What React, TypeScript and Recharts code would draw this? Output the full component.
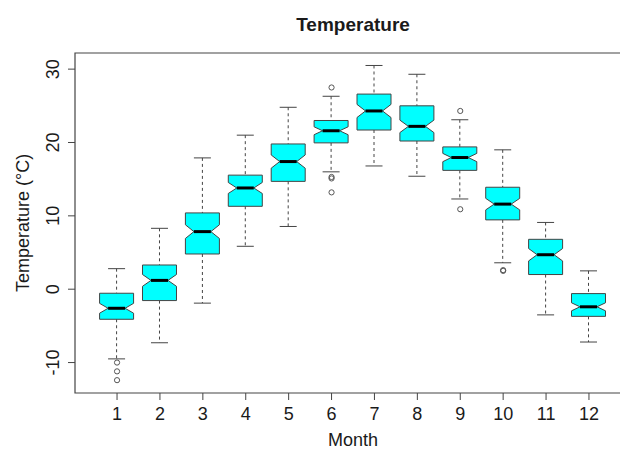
import React from 'react';
import {
    ComposedChart,
    Bar,
    Scatter,
    XAxis,
    YAxis,
    ReferenceArea,
    Customized
} from 'recharts';

// monthly temperature box plot stats
const months = [1, 2, 3, 4, 5, 6, 7, 8, 9, 10, 11, 12];
const whiskerLow = [-9.5, -7.3, -1.9, 5.85, 8.55, 16.0, 16.8, 15.4, 12.3, 3.6, -3.5, -7.2];
const lowerHinge = [-4.1, -1.55, 4.8, 11.3, 14.7, 19.95, 21.7, 20.2, 16.2, 9.45, 2.0, -3.7];
const medians = [-2.6, 1.2, 7.85, 13.8, 17.4, 21.6, 24.3, 22.2, 17.95, 11.6, 4.7, -2.4];
const upperHinge = [-0.55, 3.3, 10.4, 15.55, 19.8, 23.0, 26.6, 25.0, 19.4, 13.9, 6.8, -0.6];
const whiskerHigh = [2.8, 8.3, 17.9, 21.0, 24.8, 26.3, 30.5, 29.3, 23.1, 19.0, 9.1, 2.5];
const sampleSize = [70, 90, 90, 80, 80, 80, 75, 80, 80, 80, 80, 80];

const outlierMonths = [1, 1, 1, 6, 6, 6, 6, 9, 9, 10, 10];
const outlierValues = [-10.0, -11.2, -12.4, 27.5, 15.3, 15.1, 13.2, 24.3, 10.9, 2.6, 2.5];

const yTicks = [-10, 0, 10, 20, 30];

const FONT = '"Liberation Sans", Arial, sans-serif';
const INK = '#1a1a1a';
const LINE = '#444';

const boxData = months.map((m, i) => ({
    month: m,
    lo: whiskerLow[i],
    q1: lowerHinge[i],
    med: medians[i],
    q3: upperHinge[i],
    hi: whiskerHigh[i],
    n: sampleSize[i]
}));

const outliers = outlierMonths.map((m, i) => ({ month: m, value: outlierValues[i] }));

const NotchedBox = (props: any) => {
    const { x, y, width, height, payload } = props;
    if (!payload) return null;
    const top = Math.min(y, y + height);
    const bottom = Math.max(y, y + height);
    const { lo, q1, med, q3, hi, n } = payload;
    const ppu = (bottom - top) / (hi - lo);
    const py = (v: number) => top + (hi - v) * ppu;
    const cx = x + width / 2;
    const w = width / 2;
    const notch = (1.58 * (q3 - q1)) / Math.sqrt(n);
    const pts = [
        [cx - w, py(q3)],
        [cx + w, py(q3)],
        [cx + w, py(med + notch)],
        [cx + w / 2, py(med)],
        [cx + w, py(med - notch)],
        [cx + w, py(q1)],
        [cx - w, py(q1)],
        [cx - w, py(med - notch)],
        [cx - w / 2, py(med)],
        [cx - w, py(med + notch)]
    ].map((p) => p.join(',')).join(' ');
    return (
        <g>
            <line x1={cx} x2={cx} y1={py(hi)} y2={py(q3)} stroke={LINE} strokeDasharray="3 3" />
            <line x1={cx} x2={cx} y1={py(q1)} y2={py(lo)} stroke={LINE} strokeDasharray="3 3" />
            <line x1={cx - w / 2} x2={cx + w / 2} y1={py(hi)} y2={py(hi)} stroke={LINE} />
            <line x1={cx - w / 2} x2={cx + w / 2} y1={py(lo)} y2={py(lo)} stroke={LINE} />
            <polygon points={pts} fill="#00FFFF" stroke={LINE} strokeWidth={1} />
            <line x1={cx - w / 2} x2={cx + w / 2} y1={py(med)} y2={py(med)} stroke="#000" strokeWidth={3} />
        </g>
    );
};

const OutlierDot = (props: any) => {
    const { cx, cy } = props;
    return <circle cx={cx} cy={cy} r={2.6} fill="none" stroke="#555" strokeWidth={1} />;
};

const XTick = (props: any) => {
    const { x, payload } = props;
    return (
        <text x={x} y={420} textAnchor="middle" fontSize={18} fill={INK} fontFamily={FONT}>
            {payload.value}
        </text>
    );
};

const YTick = (props: any) => {
    const { y, payload } = props;
    return (
        <text
            transform={`translate(59, ${y}) rotate(-90)`}
            textAnchor="middle"
            fontSize={18}
            fill={INK}
            fontFamily={FONT}
        >
            {payload.value}
        </text>
    );
};

const Titles = () => (
    <g fontFamily={FONT} fill={INK}>
        <text x={353} y={30.5} textAnchor="middle" fontSize={19} fontWeight="bold">
            Temperature
        </text>
        <text x={353} y={446} textAnchor="middle" fontSize={18}>
            Month
        </text>
        <text transform="translate(28.5, 223) rotate(-90)" textAnchor="middle" fontSize={18}>
            Temperature (°C)
        </text>
    </g>
);

export default function App() {
    return (
        <div
            style={{
                position: 'absolute',
                left: 0,
                top: 0,
                width: 620,
                height: 451,
                overflow: 'hidden',
                background: '#fff'
            }}
        >
            <ComposedChart
                width={640}
                height={451}
                data={boxData}
                margin={{ top: 53, right: 9, bottom: 0, left: 0 }}
            >
                <XAxis
                    dataKey="month"
                    type="number"
                    domain={[0.02, 12.98]}
                    ticks={months}
                    allowDataOverflow
                    height={58}
                    tickSize={7}
                    axisLine={false}
                    tickLine={{ stroke: LINE }}
                    tick={<XTick />}
                    interval={0}
                />
                <YAxis
                    type="number"
                    domain={[-14.15, 32.2]}
                    ticks={yTicks}
                    allowDataOverflow
                    width={75}
                    tickSize={7}
                    axisLine={false}
                    tickLine={{ stroke: LINE }}
                    tick={<YTick />}
                    interval={0}
                />
                <ReferenceArea
                    x1={0.02}
                    x2={12.98}
                    y1={-14.15}
                    y2={32.2}
                    fill="none"
                    fillOpacity={0}
                    stroke={LINE}
                    strokeWidth={1.2}
                />
                <Bar
                    dataKey={(d: any) => [d.lo, d.hi]}
                    barSize={34}
                    shape={<NotchedBox />}
                    isAnimationActive={false}
                />
                <Scatter
                    data={outliers}
                    dataKey="value"
                    shape={<OutlierDot />}
                    isAnimationActive={false}
                />
                <Customized component={Titles} />
            </ComposedChart>
        </div>
    );
}
